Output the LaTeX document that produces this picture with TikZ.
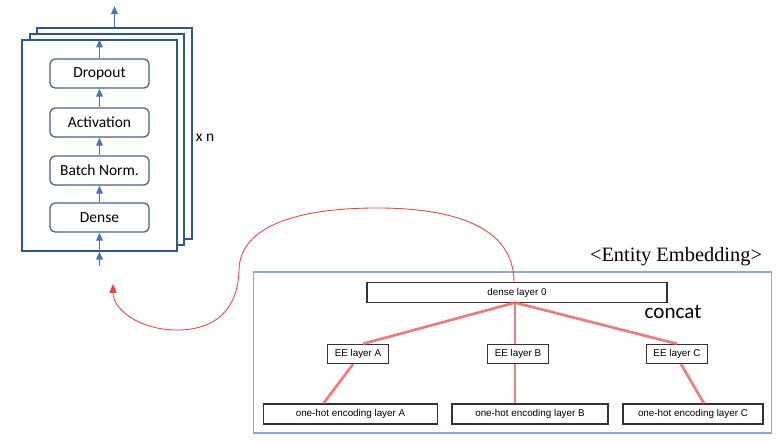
\documentclass[tikz,border=0pt]{standalone}
\usepackage{fontspec}
\newfontfamily\calibrifont{Carlito}
\newfontfamily\helvfont{Liberation Sans}
\newfontfamily\romanfont{Liberation Serif}
\usetikzlibrary{arrows.meta,positioning,calc}
\definecolor{nnframe}{HTML}{2F5597}
\definecolor{nnbox}{HTML}{44618F}
\definecolor{nnarrow}{HTML}{4472C4}
\definecolor{eepanel}{HTML}{8EA9DB}
\definecolor{eeedge}{HTML}{EE6464}
\definecolor{eecurve}{HTML}{FF3B3B}
\tikzset{
  frame/.style={draw=nnframe, fill=white, line width=1.4pt, minimum width=3.85cm, minimum height=5.25cm, inner sep=0pt},
  lyr/.style={draw=nnbox, fill=white, rounded corners=3.5pt, line width=0.9pt, minimum width=2.475cm, minimum height=0.725cm, inner sep=0pt, font=\calibrifont\fontsize{11}{13}\selectfont},
  eebox/.style={draw=black!80, fill=white, line width=0.8pt, minimum height=0.48cm, inner sep=0pt, font=\helvfont\fontsize{7}{8}\selectfont},
  uparr/.style={-{Triangle[length=2mm, width=1.6mm]}, line width=1.3pt, color=nnarrow},
  edge/.style={line width=1.9pt, color=eeedge, opacity=0.85},
  feed/.style={-{Triangle[length=2.2mm, width=1.8mm]}, line width=0.6pt, color=eecurve},
}
\begin{document}
\begin{tikzpicture}[x=0.025cm, y=-0.025cm]
    \useasboundingbox (0,0) rectangle (782,444);
    % stacked layers
    \node[frame] (f3) at (114.5,133.5) {};
    \node[frame] (f2) at (107,139.5) {};
    \node[frame] (f1) at (99.5,145.5) {};
    \node[lyr] (dr) at (99.5,73.5) {Dropout};
    \node[lyr] (ac) at (99.5,122.5) {Activation};
    \node[lyr] (bn) at (99.5,170.5) {Batch Norm.};
    \node[lyr] (de) at (99.5,217.5) {Dense};
    \node[font=\calibrifont\fontsize{11}{13}\selectfont] (xn) at (205,138) {x n};
    \coordinate (in) at (99.5,266);
    \coordinate (out) at (114.5,6);
    \draw[uparr] (in)--(f1.south); \draw[uparr] (f1.south)--(de.south); \draw[uparr] (de.north)--(bn.south);
    \draw[uparr] (bn.north)--(ac.south); \draw[uparr] (ac.north)--(dr.south); \draw[uparr] (dr.north)--(f1.north);
    \draw[uparr] (f3.north)--(out);
    % entity embedding
    \node[draw=eepanel, line width=1.1pt, minimum width=12.94cm, minimum height=4.025cm, inner sep=0pt] (panel) at (512.5,352.5) {};
    \node[font=\romanfont\fontsize{14.5}{16}\selectfont] (title) at (676,257) {<Entity Embedding>};
    \node[font=\calibrifont\fontsize{15}{17}\selectfont] (cc) at (673,312) {concat};
    \node[eebox, minimum width=7.5cm] (d0) at (517,292.5) {dense layer 0};
    \node[eebox, minimum width=1.525cm] (eeA) at (358,354) {EE layer A};
    \node[eebox, minimum width=1.525cm] (eeB) at (518,354) {EE layer B};
    \node[eebox, minimum width=1.525cm] (eeC) at (677,354) {EE layer C};
    \node[eebox, minimum width=4.35cm, minimum height=0.5cm] (ohA) at (350.5,414) {one-hot encoding layer A};
    \node[eebox, minimum width=3.9cm, minimum height=0.5cm] (ohB) at (530,414) {one-hot encoding layer B};
    \node[eebox, minimum width=3.5cm, minimum height=0.5cm] (ohC) at (693,414) {one-hot encoding layer C};
    \draw[edge] ($(d0.south)+(-2,0)$)--($(eeA.north)+(5,0)$); \draw[edge] ($(d0.south)+(-2,0)$)--($(eeB.north)+(-3,0)$);
    \draw[edge] ($(d0.south)+(-2,0)$)--(eeC.north);
    \draw[edge] ($(eeA.south)+(-5,0)$)--($(ohA.north)+(-27,0)$); \draw[edge] ($(eeB.south)+(-3,0)$)--($(ohB.north)+(-15,0)$);
    \draw[edge] ($(eeC.south)+(4,0)$)--($(ohC.north)+(11,0)$);
    % back to the network
    \coordinate (entry) at (113,284);
    \draw[feed] ($(d0.north)+(-3,0)$) .. controls (514,225) and (450,208) .. (377,208)
      .. controls (300,208) and (240,225) .. (239,270)
      .. controls (238,310) and (215,330) .. (177,330)
      .. controls (140,330) and (113,310) .. (entry);
  \end{tikzpicture}
\end{document}
